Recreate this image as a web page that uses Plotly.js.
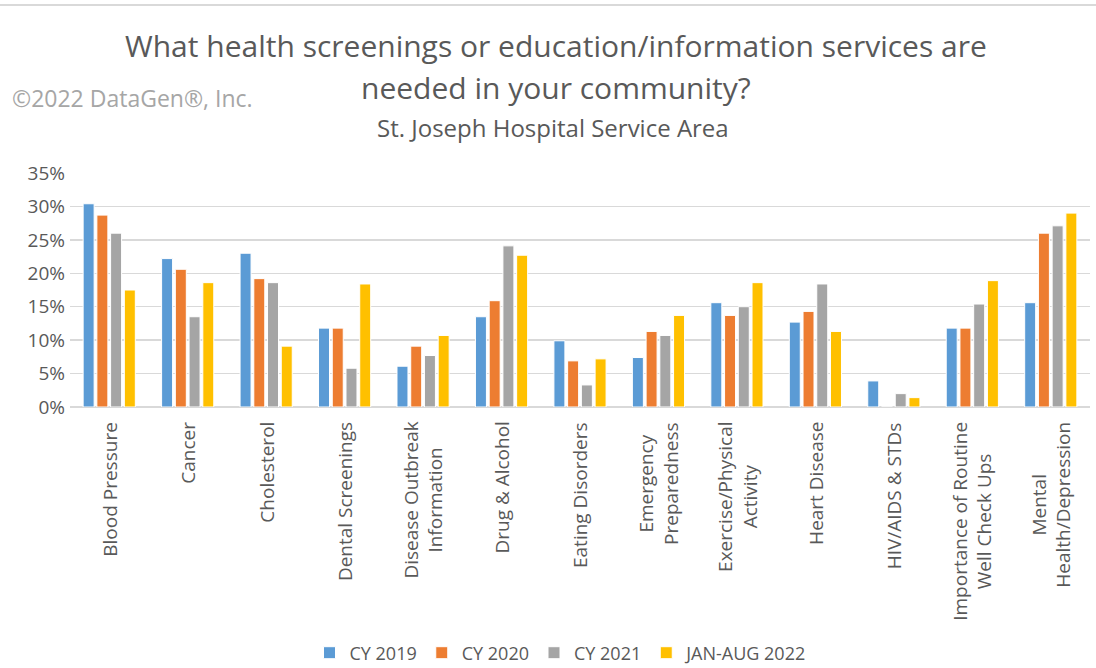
<!DOCTYPE html>
<html>
<head>
<meta charset="utf-8">
<script src="https://cdn.plot.ly/plotly-3.0.1.min.js"></script>
<style>
  body { margin: 0; background: #fff; }
  #chart { width: 1096px; height: 668px; }
</style>
</head>
<body>
<div id="chart"></div>
<script>
var categories = ['Blood Pressure', 'Cancer', 'Cholesterol', 'Dental Screenings',
    'Disease Outbreak<br>Information', 'Drug & Alcohol', 'Eating Disorders',
    'Emergency<br>Preparedness', 'Exercise/Physical<br>Activity', 'Heart Disease',
    'HIV/AIDS & STDs', 'Importance of Routine<br>Well Check Ups', 'Mental<br>Health/Depression'];

var cy2019 = [30.4, 22.2, 23.0, 11.8, 6.1, 13.5, 9.9, 7.4, 15.6, 12.7, 3.9, 11.8, 15.6];
var cy2020 = [28.7, 20.6, 19.2, 11.8, 9.1, 15.9, 6.9, 11.3, 13.7, 14.3, 0, 11.8, 26.0];
var cy2021 = [26.0, 13.5, 18.6, 5.8, 7.7, 24.1, 3.3, 10.7, 15.0, 18.4, 2.0, 15.4, 27.1];
var jan2022 = [17.5, 18.6, 9.1, 18.4, 10.7, 22.7, 7.2, 13.7, 18.6, 11.3, 1.4, 18.9, 29.0];

var seriesNames = ['CY 2019', 'CY 2020', 'CY 2021', 'JAN-AUG 2022'];
var seriesColors = ['#5B9BD5', '#ED7D31', '#A5A5A5', '#FFC000'];

var data = [cy2019, cy2020, cy2021, jan2022].map(function (vals, i) {
    return {
        x: categories,
        y: vals.map(function (v) { return v / 100; }),
        name: seriesNames[i],
        type: 'bar',
        marker: { color: seriesColors[i], line: { color: '#ffffff', width: 1 } },
        hoverinfo: 'skip'
    };
});

var font = '"Open Sans", "Noto Sans", sans-serif';

// plot area: x 70..1090, y 173..407 (px)
function py(pix) { return (407 - pix) / 234; }
function px(pix) { return (pix - 70) / 1020; }

var annotations = [
    { text: 'What health screenings or education/information services are',
      xref: 'paper', yref: 'paper', x: px(556), y: py(46), xanchor: 'center', yanchor: 'middle',
      showarrow: false, font: { size: 30, color: '#595959', family: font } },
    { text: 'needed in your community?',
      xref: 'paper', yref: 'paper', x: px(556), y: py(88), xanchor: 'center', yanchor: 'middle',
      showarrow: false, font: { size: 30, color: '#595959', family: font } },
    { text: 'St. Joseph Hospital Service Area',
      xref: 'paper', yref: 'paper', x: px(553), y: py(127), xanchor: 'center', yanchor: 'middle',
      showarrow: false, font: { size: 24, color: '#595959', family: font } },
    { text: '©2022 DataGen®, Inc.',
      xref: 'paper', yref: 'paper', x: px(10), y: py(98), xanchor: 'left', yanchor: 'middle',
      showarrow: false, font: { size: 23, color: '#a6a6a6', family: font } }
];

// category labels, rotated, lines centred like the original
categories.forEach(function (c) {
    annotations.push({
        text: c, x: c, xref: 'x', y: 0, yref: 'paper', yshift: -13,
        xanchor: 'center', yanchor: 'top', textangle: -90, align: 'center',
        showarrow: false, font: { size: 19, color: '#595959', family: font }
    });
});

var layout = {
    width: 1096,
    height: 668,
    margin: { l: 70, r: 6, t: 173, b: 261 },
    paper_bgcolor: '#ffffff',
    plot_bgcolor: '#ffffff',
    barmode: 'group',
    bargap: 0.3,
    bargroupgap: 0.2,
    font: { family: font, color: '#595959' },
    showlegend: true,
    legend: {
        orientation: 'h',
        x: px(561), xanchor: 'center',
        yref: 'container', y: 15 / 668, yanchor: 'middle',
        font: { size: 18, color: '#595959', family: font },
        itemwidth: 30,
        traceorder: 'normal'
    },
    xaxis: {
        showticklabels: false,
        showline: false,
        ticks: '',
        automargin: false
    },
    yaxis: {
        range: [0, 0.35],
        dtick: 0.05,
        tickformat: '.0%',
        tickfont: { size: 19, color: '#595959', family: font },
        ticklabelstandoff: 4,
        gridcolor: '#d9d9d9',
        gridwidth: 1.5,
        zeroline: true,
        zerolinecolor: '#d9d9d9',
        zerolinewidth: 1.5,
        automargin: false
    },
    annotations: annotations,
    shapes: [
        { type: 'line', xref: 'paper', yref: 'paper', x0: px(0), x1: px(1096),
          y0: py(5), y1: py(5), line: { color: '#d9d9d9', width: 2 } }
    ]
};

Plotly.newPlot('chart', data, layout, { displayModeBar: false, staticPlot: true });
</script>
</body>
</html>
